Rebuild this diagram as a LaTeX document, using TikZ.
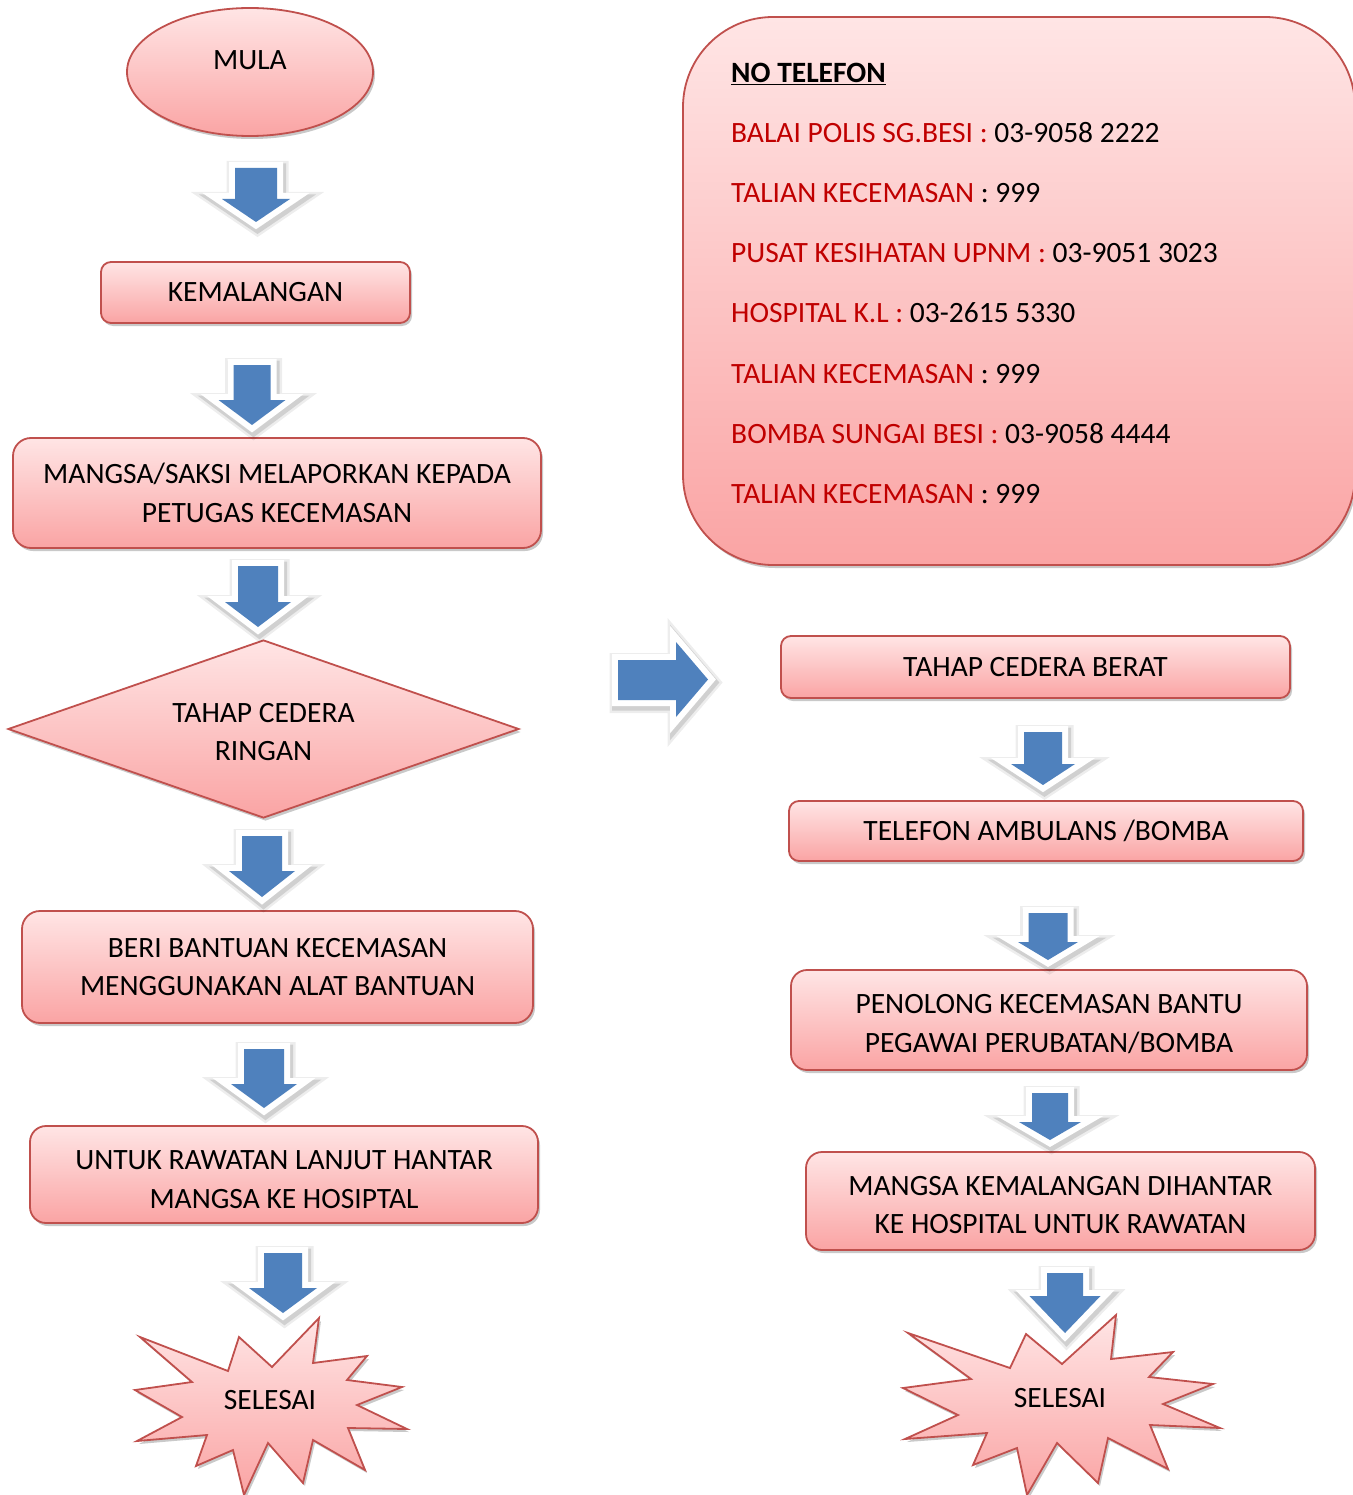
\documentclass[tikz,border=0pt]{standalone}
\usepackage{fontspec}
\setmainfont{Carlito}
\usetikzlibrary{shapes.geometric,shadows}
\definecolor{boxline}{RGB}{192,80,77}
\definecolor{boxtop}{RGB}{255,229,229}
\definecolor{boxbot}{RGB}{250,164,164}
\definecolor{arrblue}{RGB}{79,129,189}
\definecolor{redtxt}{RGB}{192,0,0}
\tikzset{
  shapefill/.style={draw=boxline, line width=1.8pt, top color=boxtop, bottom color=boxbot,
    drop shadow={shadow xshift=2pt, shadow yshift=-3pt, opacity=0.3, fill=black!70}},
  flowbox/.style={shapefill, rectangle, inner sep=0pt, align=center,
    font=\fontsize{29.5}{38.5}\selectfont},
  txt/.style={inner sep=0pt, align=center, font=\fontsize{29.5}{38.5}\selectfont},
  phonetxt/.style={inner sep=0pt, anchor=base west, font=\fontsize{29.5}{36}\selectfont},
  arrshadowa/.style={draw=black, opacity=0.07, line width=20pt, xshift=1.5pt, yshift=-3pt},
  arrshadowb/.style={draw=black, opacity=0.12, line width=15pt, xshift=1.5pt, yshift=-3pt},
  arrwhite/.style={draw=white, line width=12pt, line join=miter, miter limit=10},
  arrfill/.style={fill=arrblue},
}
\newcommand{\dnarrow}[6]{%
  \foreach \sty in {arrshadowa,arrshadowb,arrwhite,arrfill}{%
    \path[\sty] ({#1-#5},#2) -- ({#1+#5},#2) -- ({#1+#5},#3) -- ({#1+#6},#3) -- (#1,#4)
      -- ({#1-#6},#3) -- ({#1-#5},#3) -- cycle;}}
\begin{document}
\begin{tikzpicture}[x=1pt,y=-1pt]
\useasboundingbox (0,0) rectangle (1352,1495);

% ---------- left column ----------
\node[shapefill, ellipse, minimum width=246pt, minimum height=128pt, inner sep=0pt] (mula) at (250,72) {};
\node[txt] (mulatxt) at ([yshift=12pt]mula.center) {MULA};

\node[flowbox, rounded corners=10pt, minimum width=309pt, minimum height=61pt] (kem) at (255.5,292.5) {KEMALANGAN};
\node[flowbox, rounded corners=18pt, minimum width=528pt, minimum height=110pt] (lapor) at (277,493) {MANGSA/SAKSI MELAPORKAN KEPADA\\PETUGAS KECEMASAN};
\node[shapefill, diamond, aspect=2.87, minimum width=511pt, minimum height=178pt, inner sep=0pt] (ringan) at (263.5,729) {};
\node[txt] (ringant) at ([yshift=-3pt]ringan.center) {TAHAP CEDERA\\RINGAN};
\node[flowbox, rounded corners=18pt, minimum width=511pt, minimum height=112pt] (beri) at (277.5,967) {BERI BANTUAN KECEMASAN\\MENGGUNAKAN ALAT BANTUAN};
\node[flowbox, rounded corners=16pt, minimum width=508pt, minimum height=97pt] (untuk) at (284,1174.5) {};
\node[txt] (untukt) at ([yshift=-5pt]untuk.center) {UNTUK RAWATAN LANJUT HANTAR\\MANGSA KE HOSIPTAL};

\path[shapefill] (140,1337) -- (228,1371) -- (239,1337) -- (272,1367) -- (319,1318) -- (313,1363)
  -- (367,1356) -- (347,1380) -- (402,1387) -- (357,1405) -- (407,1429) -- (348,1428)
  -- (365,1470) -- (313,1440) -- (303,1483) -- (268,1443) -- (244,1495) -- (233,1450)
  -- (196,1466) -- (207,1435) -- (137,1441) -- (182,1417) -- (135,1390) -- (192,1382) -- cycle;
\node[txt] (sel1) at (270,1400) {SELESAI};

\dnarrow{256}{168}{199}{222}{21}{34}
\dnarrow{252}{365}{400}{425}{18.5}{33.5}
\dnarrow{258}{566}{602}{627}{20}{33}
\dnarrow{262}{836}{871}{897}{20}{33}
\dnarrow{264}{1049}{1084}{1108}{20}{33}
\dnarrow{283}{1253}{1288}{1313}{19}{34}

% ---------- right arrow ----------
\foreach \sty in {arrshadowa,arrshadowb,arrwhite,arrfill}{%
  \path[\sty] (618,660) -- (676,660) -- (676,642) -- (708,679.5) -- (676,717) -- (676,700) -- (618,700) -- cycle;}

% ---------- phone box ----------
\node[shapefill, rectangle, rounded corners=90pt, minimum width=672pt, minimum height=548pt] (phone) at (1019,291) {};
\node[phonetxt] (nt) at (731,83) {\underline{\textbf{NO TELEFON}}};
\node[phonetxt] (p1) at (731,143) {\textcolor{redtxt}{BALAI POLIS SG.BESI :} 03-9058 2222};
\node[phonetxt] (p2) at (731,203) {\textcolor{redtxt}{TALIAN KECEMASAN} : 999};
\node[phonetxt] (p3) at (731,263) {\textcolor{redtxt}{PUSAT KESIHATAN UPNM :} 03-9051 3023};
\node[phonetxt] (p4) at (731,323) {\textcolor{redtxt}{HOSPITAL K.L :} 03-2615 5330};
\node[phonetxt] (p5) at (731,383) {\textcolor{redtxt}{TALIAN KECEMASAN} : 999};
\node[phonetxt] (p6) at (731,443) {\textcolor{redtxt}{BOMBA SUNGAI BESI :} 03-9058 4444};
\node[phonetxt] (p7) at (731,503) {\textcolor{redtxt}{TALIAN KECEMASAN} : 999};

% ---------- right column ----------
\node[flowbox, rounded corners=10pt, minimum width=509pt, minimum height=62pt] (berat) at (1035.5,667) {TAHAP CEDERA BERAT};
\node[flowbox, rounded corners=10pt, minimum width=514pt, minimum height=60pt] (telefon) at (1046,831) {TELEFON AMBULANS /BOMBA};
\node[flowbox, rounded corners=16pt, minimum width=516pt, minimum height=100pt] (penolong) at (1049,1020) {};
\node[txt] (penolongt) at ([yshift=-4pt]penolong.center) {PENOLONG KECEMASAN BANTU\\PEGAWAI PERUBATAN/BOMBA};
\node[flowbox, rounded corners=16pt, minimum width=509pt, minimum height=98pt] (hantar) at (1060.5,1201) {};
\node[txt] (hantart) at ([yshift=-4pt]hantar.center) {MANGSA KEMALANGAN DIHANTAR\\KE HOSPITAL UNTUK RAWATAN};

\path[shapefill] (908,1333) -- (1010,1368) -- (1026,1334) -- (1062,1364) -- (1116,1315) -- (1111,1359)
  -- (1173,1352) -- (1149,1377) -- (1213,1384) -- (1163,1404) -- (1220,1428) -- (1150,1425)
  -- (1168,1469) -- (1108,1438) -- (1098,1483) -- (1057,1443) -- (1027,1495) -- (1017,1448)
  -- (973,1465) -- (987,1433) -- (905,1439) -- (958,1415) -- (903,1388) -- (971,1379) -- cycle;
\node[txt] (sel2) at (1060,1398) {SELESAI};

\dnarrow{1043}{732}{764}{785}{19}{32}
\dnarrow{1048}{913}{942}{960}{19.5}{30}
\dnarrow{1050}{1093}{1122}{1140}{18}{31}
\dnarrow{1065}{1273}{1296}{1333}{18}{35.5}
\end{tikzpicture}
\end{document}
